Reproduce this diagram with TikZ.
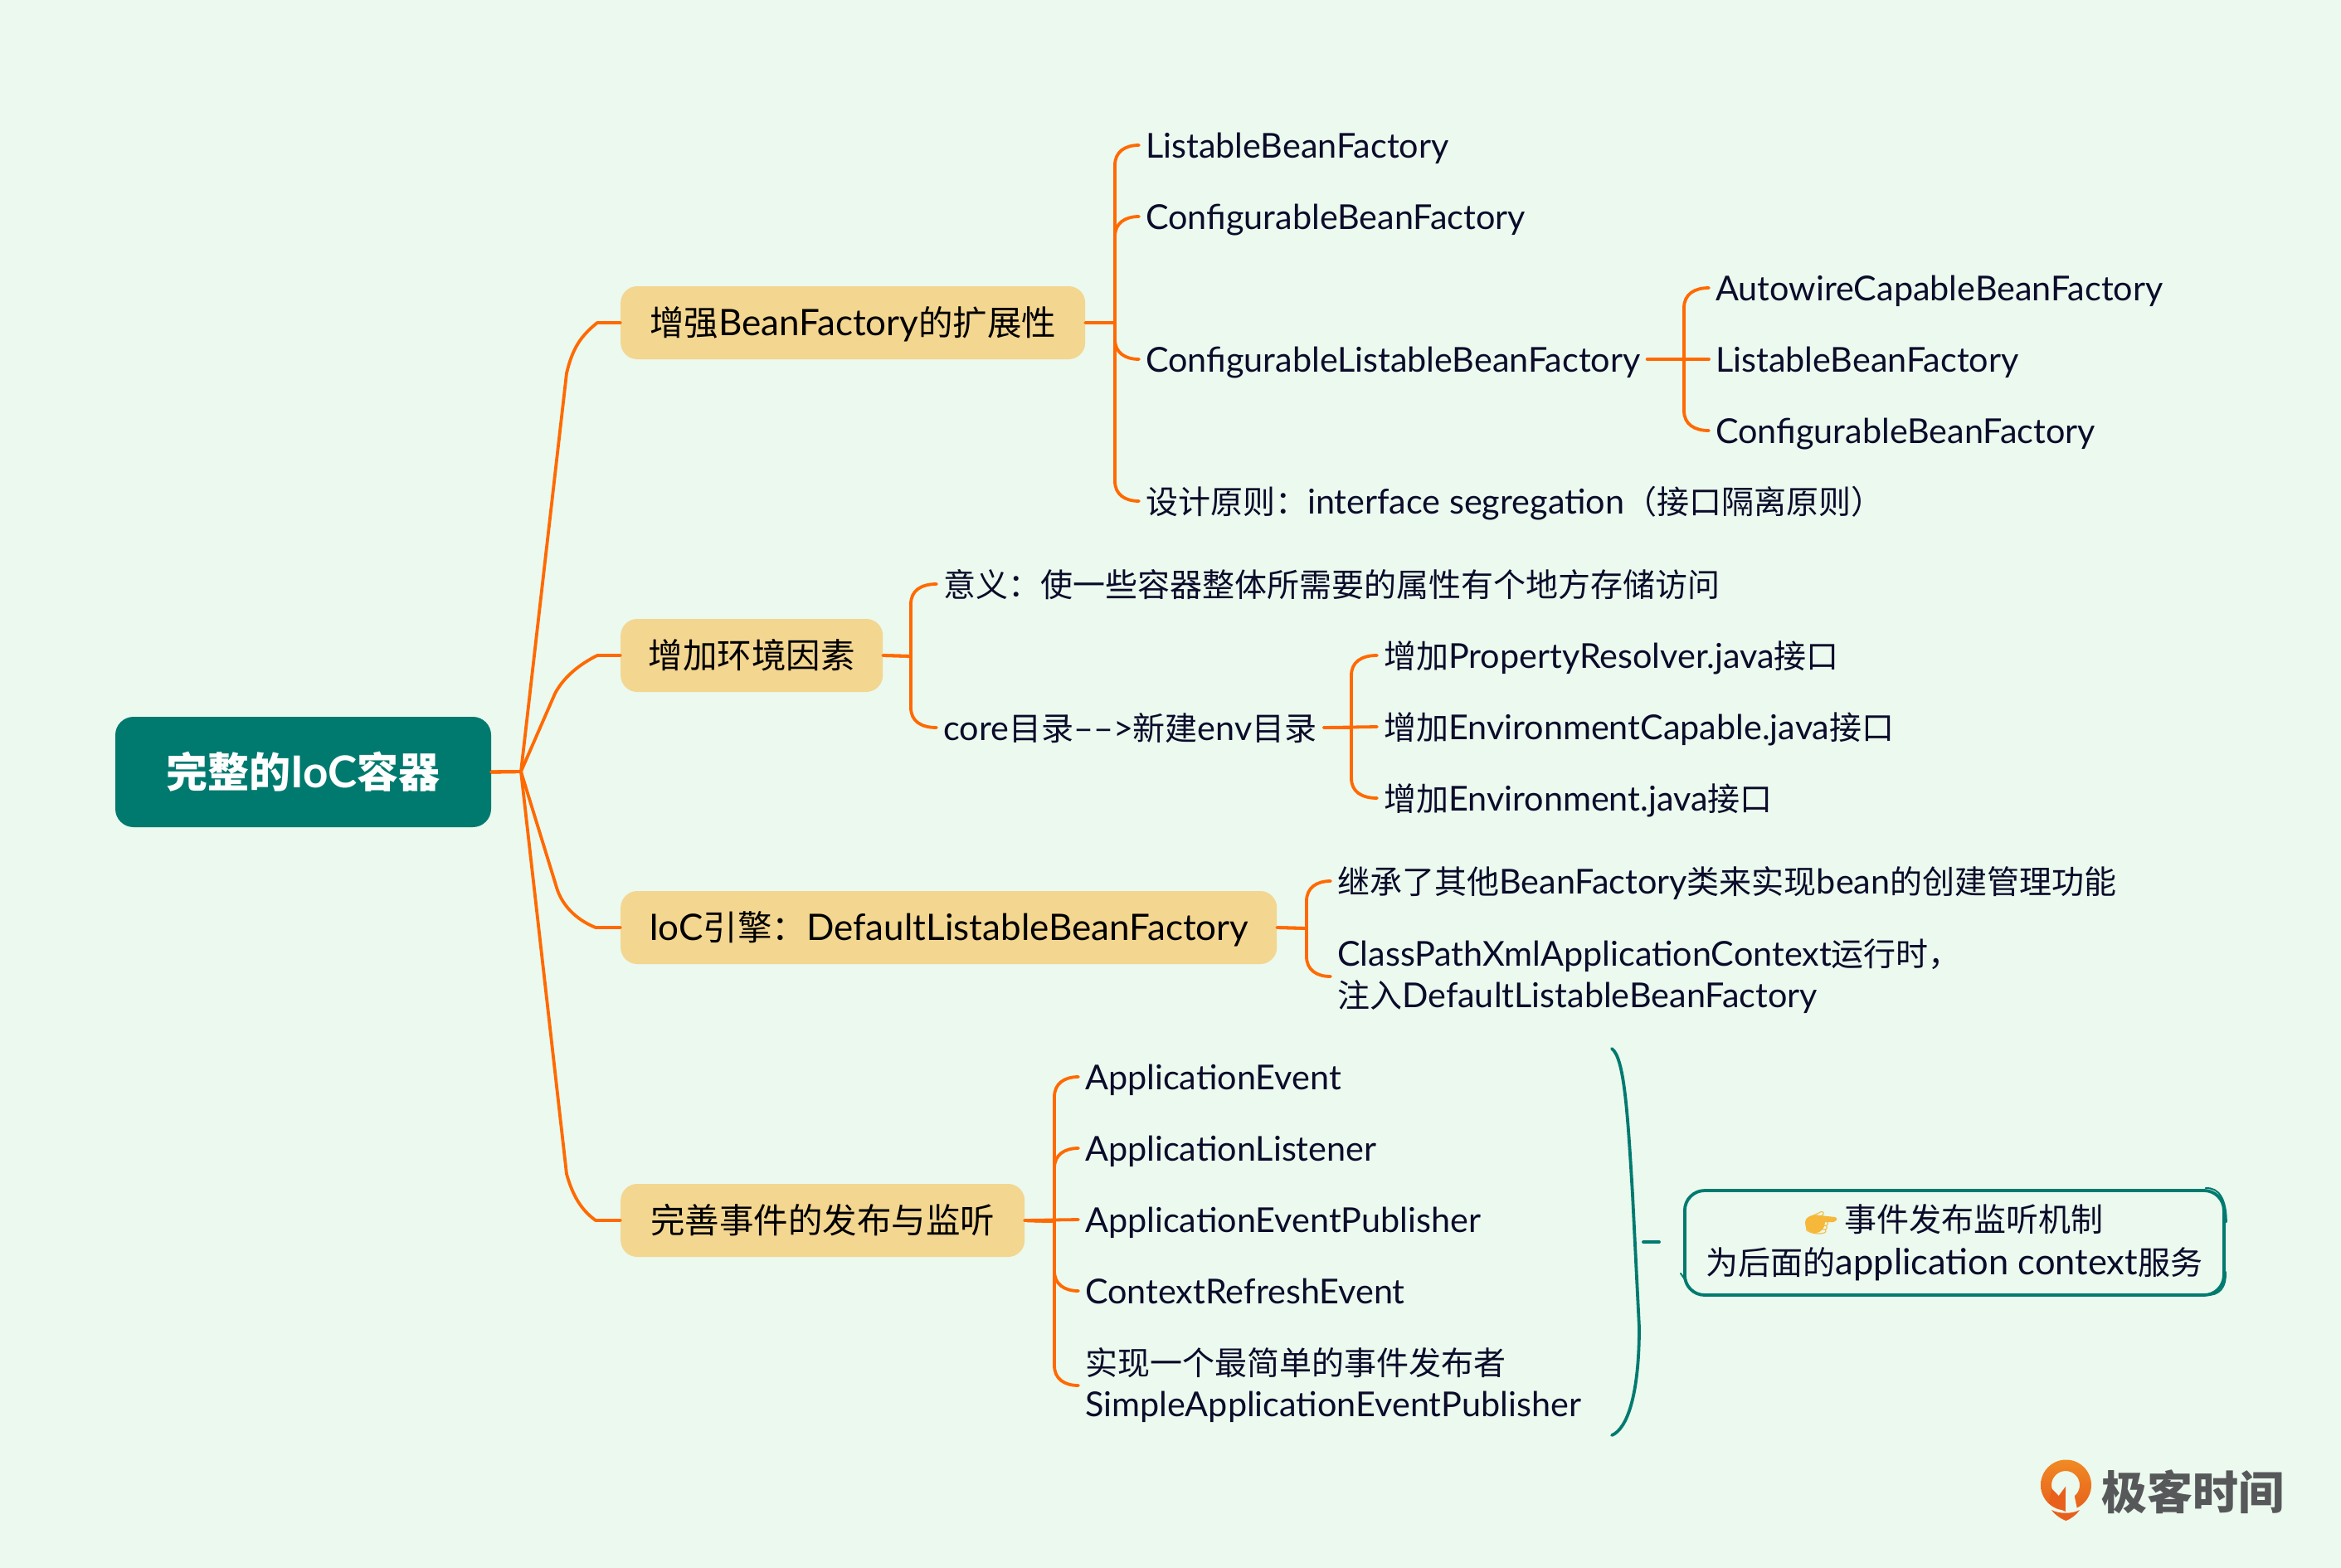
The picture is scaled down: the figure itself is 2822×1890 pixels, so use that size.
\documentclass[tikz,border=0pt]{standalone}
\usepackage{fontspec}
\usetikzlibrary{calc}
\setmainfont{Lato}[Scale=1.06]
\newfontfamily\cjk{Noto Sans CJK SC}
\newfontfamily\emojifont{Noto Emoji}
\newcommand\zh[1]{{\cjk #1}}
\definecolor{bgc}{HTML}{EBF9EE}
\definecolor{rootc}{HTML}{007A6F}
\definecolor{boxc}{HTML}{F3D690}
\definecolor{linec}{HTML}{FF6A00}
\definecolor{inkc}{HTML}{0B0B2A}
\definecolor{greyc}{HTML}{56585A}
\definecolor{logoa}{HTML}{F08A24}
\definecolor{logob}{HTML}{E8601C}
\definecolor{thumbc}{HTML}{F6B83A}
\tikzset{x=1pt,y=-1pt,
 rootbox/.style={fill=rootc,rounded corners=22pt,text=white,minimum width=453pt,minimum height=133pt,font=\fontsize{50}{60}\selectfont\bfseries,inner sep=0pt},
 topicbox/.style={fill=boxc,rounded corners=20pt,text=black,minimum height=88pt,inner xsep=33pt,inner ysep=0pt,anchor=west,text height=31pt,text depth=0pt,font=\fontsize{41.5}{50}\selectfont},
 leaftwo/.style={text=inkc,anchor=west,inner xsep=8pt,inner ysep=0pt,align=left,font=\fontsize{39}{50}\selectfont},
 leaf/.style={leaftwo,text height=30pt,text depth=0pt},
 conn/.style={draw=linec,line width=3.8pt,line cap=round,line join=round},
 teal line/.style={draw=rootc,line width=3.8pt,line cap=round,line join=round},
}
\newcommand\upkid[3]{\draw[conn] (#1.east) -- (#2) -- ($(#2 |- #3.west)+(0,24)$) .. controls ($(#2 |- #3.west)+(0,8)$) and ($(#2 |- #3.west)+(12,0)$) .. (#3.west);}
\newcommand\downkid[3]{\draw[conn] (#1.east) -- (#2) -- ($(#2 |- #3.west)+(0,-24)$) .. controls ($(#2 |- #3.west)+(0,-8)$) and ($(#2 |- #3.west)+(12,0)$) .. (#3.west);}
\newcommand\straightkid[2]{\draw[conn] (#1.east) -- (#2.west);}
\begin{document}
\begin{tikzpicture}
\useasboundingbox (0,0) rectangle (2822,1890);
\fill[bgc] (0,0) rectangle (2822,1890);

\node[rootbox] (root) at (365.5,930.5) {\zh{完整的}IoC\zh{容器}};
\coordinate (hub) at (628,930);

\node[topicbox,minimum width=560pt,align=left] (t1) at (748,389) {\zh{增强}BeanFactory\zh{的扩展性}};
\node[topicbox,minimum width=316pt,align=left] (t2) at (748,790) {\zh{增加环境因素}};
\node[topicbox,minimum width=791pt,align=left] (t3) at (748,1118) {IoC\zh{引擎：}DefaultListableBeanFactory};
\node[topicbox,minimum width=487pt,align=left] (t4) at (748,1471) {\zh{完善事件的发布与监听}};

\draw[conn] (root.east) -- (hub) -- (683,450) .. controls (690,420) and (700,405) .. (720,389) -- (t1.west);
\draw[conn] (root.east) -- (hub) -- (669,836) .. controls (680,815) and (700,800) .. (720,790) -- (t2.west);
\draw[conn] (root.east) -- (hub) -- (672,1073) .. controls (680,1095) and (698,1110) .. (718,1118) -- (t3.west);
\draw[conn] (root.east) -- (hub) -- (683,1415) .. controls (690,1440) and (700,1458) .. (718,1471) -- (t4.west);

% branch 1
\coordinate (h1) at (1344,389);
\node[leaf] (a1) at (1373,175) {ListableBeanFactory};
\node[leaf] (a2) at (1373,261) {ConfigurableBeanFactory};
\node[leaf] (a3) at (1373,433) {ConfigurableListableBeanFactory};
\node[leaf] (a4) at (1373,604) {\zh{设计原则：}interface segregation\zh{（接口隔离原则）}};
\upkid{t1}{h1}{a1}
\upkid{t1}{h1}{a2}
\downkid{t1}{h1}{a3}
\downkid{t1}{h1}{a4}
\coordinate (h1b) at (2030,433);
\node[leaf] (a31) at (2060,347) {AutowireCapableBeanFactory};
\node[leaf] (a32) at (2060,433) {ListableBeanFactory};
\node[leaf] (a33) at (2060,519) {ConfigurableBeanFactory};
\upkid{a3}{h1b}{a31}
\straightkid{a3}{a32}
\downkid{a3}{h1b}{a33}

% branch 2
\coordinate (h2) at (1098,791);
\node[leaf] (b1) at (1129,704) {\zh{意义：使一些容器整体所需要的属性有个地方存储访问}};
\node[leaf] (b2) at (1129,877) {core\zh{目录}{--}{--}>\zh{新建}env\zh{目录}};
\upkid{t2}{h2}{b1}
\downkid{t2}{h2}{b2}
\coordinate (h2b) at (1629,877);
\node[leaf] (b21) at (1660,790) {\zh{增加}PropertyResolver.java\zh{接口}};
\node[leaf] (b22) at (1660,876) {\zh{增加}EnvironmentCapable.java\zh{接口}};
\node[leaf] (b23) at (1660,962) {\zh{增加}Environment.java\zh{接口}};
\upkid{b2}{h2b}{b21}
\straightkid{b2}{b22}
\downkid{b2}{h2b}{b23}

% branch 3
\coordinate (h3) at (1575,1119);
\node[leaf] (c1) at (1604,1062) {\zh{继承了其他}BeanFactory\zh{类来实现}bean\zh{的创建管理功能}};
\node[leaftwo] (c2) at (1604,1177) {ClassPathXmlApplicationContext\zh{运行时，}\\\zh{注入}DefaultListableBeanFactory};
\upkid{t3}{h3}{c1}
\downkid{t3}{h3}{c2}

% branch 4
\coordinate (h4) at (1271,1472);
\node[leaf] (d1) at (1300,1298) {ApplicationEvent};
\node[leaf] (d2) at (1300,1384) {ApplicationListener};
\node[leaf] (d3) at (1300,1470) {ApplicationEventPublisher};
\node[leaf] (d4) at (1300,1556) {ContextRefreshEvent};
\node[leaftwo] (d5) at (1300,1670) {\zh{实现一个最简单的事件发布者}\\SimpleApplicationEventPublisher};
\upkid{t4}{h4}{d1}
\upkid{t4}{h4}{d2}
\straightkid{t4}{d3}
\downkid{t4}{h4}{d4}
\downkid{t4}{h4}{d5}

% summary brace and note
\coordinate (bt) at (1943,1264);
\coordinate (bb) at (1943,1730);
\draw[teal line] (bt) .. controls (1958,1275) and (1962,1340) .. (1968,1440) -- (1976,1600) .. controls (1976,1680) and (1962,1722) .. (bb);
% filled hand under the emoji
\fill[thumbc] (2176,1474) .. controls (2176,1466) and (2186,1463) .. (2194,1465) -- (2212,1467) .. controls (2215,1468) and (2215,1471) .. (2212,1472) -- (2200,1473) .. controls (2200,1480) and (2196,1486) .. (2188,1486) .. controls (2180,1486) and (2176,1481) .. (2176,1474) -- cycle;
\node[draw=rootc,line width=3.8pt,rounded corners=24pt,minimum width=650pt,minimum height=126pt,inner sep=0pt,anchor=west,text=inkc,align=center,font=\fontsize{39}{52}\selectfont] (note) at (2029,1498)
 {{\emojifont\fontsize{30}{30}\selectfont\textcolor{thumbc}{\symbol{"1F449}}}\hspace{10pt}\zh{事件发布监听机制}\\\zh{为后面的}{\fontsize{41}{52}\selectfont application context}\zh{服务}};
\coordinate (dashL) at (1981,1497);
\coordinate (dashR) at (2000,1497);
\draw[teal line] (dashL) -- (dashR);
% sketchy second strokes of the note outline
\draw[teal line,line width=2pt] ($(note.north east)+(-24,-1)$) .. controls ($(note.north east)+(-8,-2)$) and ($(note.north east)+(1,12)$) .. ($(note.north east)+(1,40)$);
\draw[teal line,line width=2pt] ($(note.south east)+(-24,-2)$) .. controls ($(note.south east)+(-8,-1)$) and ($(note.south east)+(1,-10)$) .. ($(note.south east)+(0,-30)$);
\draw[teal line,line width=2pt] ($(note.south west)+(4,-18)$) -- ($(note.south west)+(-3,-28)$);

% logo
\shade[top color=logoa,bottom color=logob,even odd rule] (2490.5,1790) circle (30.5pt) (2490,1790) circle (17pt);
\fill[logob] (2473,1794) -- (2481.7,1803) -- (2490,1791.7) -- (2490,1822) -- (2470,1812) -- cycle;
\fill[bgc] (2490,1800) -- (2500,1800) -- (2505,1824) -- (2490,1824) -- cycle;
\fill[logob] (2473,1820) .. controls (2482,1825) and (2498,1825) .. (2507,1820) .. controls (2503,1826) and (2496,1831) .. (2490.5,1833) .. controls (2485,1831) and (2477,1826) .. (2473,1820) -- cycle;
\node[anchor=west,inner sep=0pt,text=greyc,font=\fontsize{55}{60}\selectfont\cjk\bfseries] (logotext) at (2533,1798) {极客时间};
\end{tikzpicture}
\end{document}
